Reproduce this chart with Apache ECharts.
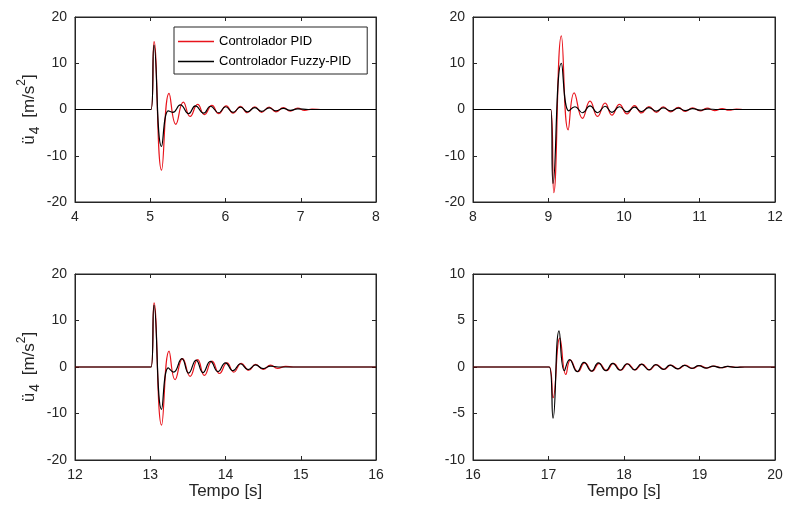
<!DOCTYPE html>
<html>
<head>
<meta charset="utf-8">
<script src="https://cdn.jsdelivr.net/npm/echarts@6/dist/echarts.min.js"></script>
<style>
html,body{margin:0;padding:0;background:#fff;}
#c{width:787px;height:516px;}
</style>
</head>
<body>
<div id="c"></div>
<script>
// ---- Data ([time s, acceleration m/s^2]) ----
const seriesNames = ['Controlador PID', 'Controlador Fuzzy-PID'];
const xLabel = 'Tempo [s]';

const xRanges = [[4, 8], [8, 12], [12, 16], [16, 20]];
const yRanges = [[-20, 20, 10], [-20, 20, 10], [-20, 20, 10], [-10, 10, 5]];

const pid1 = [[4,0],[5.01,0],[5.05,14.7],[5.15,-13.1],[5.25,3.5],[5.34,-3.2],[5.44,1.6],[5.53,-1.5],[5.63,1.1],[5.72,-1.1],[5.82,0.9],[5.91,-0.9],[6.01,0.8],[6.10,-0.8],[6.20,0.7],[6.29,-0.7],[6.39,0.6],[6.48,-0.6],[6.58,0.5],[6.67,-0.5],[6.77,0.4],[6.86,-0.35],[6.96,0.3],[7.05,-0.2],[7.15,0.1],[7.3,0],[8,0]];
const fuzzy1 = [[4,0],[5.01,0],[5.05,13.9],[5.15,-8.0],[5.24,-0.3],[5.30,-0.6],[5.40,1.0],[5.51,-0.9],[5.60,0.8],[5.71,-0.8],[5.80,0.7],[5.91,-0.7],[6.00,0.6],[6.10,-0.6],[6.20,0.5],[6.29,-0.5],[6.39,0.4],[6.48,-0.4],[6.58,0.35],[6.67,-0.3],[6.77,0.25],[6.86,-0.2],[6.96,0.15],[7.1,0],[8,0]];

const pid2 = [[8,0],[9.03,0],[9.07,-18.0],[9.17,15.9],[9.26,-4.4],[9.34,3.6],[9.45,-1.9],[9.55,1.8],[9.65,-1.5],[9.75,1.4],[9.84,-1.2],[9.94,1.1],[10.04,-0.95],[10.14,0.85],[10.23,-0.75],[10.33,0.65],[10.43,-0.6],[10.52,0.55],[10.62,-0.5],[10.72,0.45],[10.81,-0.4],[10.91,0.35],[11.01,-0.3],[11.10,0.3],[11.20,-0.25],[11.30,0.2],[11.39,-0.15],[11.49,0.1],[11.6,0],[12,0]];
const fuzzy2 = [[8,0],[9.03,0],[9.06,-16.0],[9.17,10.0],[9.27,-0.3],[9.35,0.6],[9.45,-0.7],[9.55,0.8],[9.65,-0.7],[9.75,0.7],[9.84,-0.6],[9.94,0.6],[10.04,-0.5],[10.14,0.5],[10.23,-0.45],[10.33,0.4],[10.43,-0.35],[10.52,0.35],[10.62,-0.3],[10.72,0.3],[10.81,-0.25],[10.91,0.2],[11.01,-0.15],[11.10,0.1],[11.25,0],[12,0]];

const pid3 = [[12,0],[13.01,0],[13.05,13.8],[13.15,-12.5],[13.25,3.4],[13.33,-2.7],[13.43,1.8],[13.53,-2.0],[13.63,1.6],[13.72,-1.8],[13.82,1.25],[13.92,-1.4],[14.02,0.9],[14.11,-1.1],[14.21,0.8],[14.31,-0.7],[14.40,0.55],[14.50,-0.5],[14.60,0.4],[14.69,-0.3],[14.8,0.15],[14.9,0],[16,0]];
const fuzzy3 = [[12,0],[13.01,0],[13.05,13.3],[13.15,-9.1],[13.24,-0.2],[13.31,-1.1],[13.42,1.8],[13.51,-1.3],[13.61,1.5],[13.70,-1.2],[13.80,1.2],[13.90,-1.0],[14.00,0.9],[14.10,-0.8],[14.20,0.7],[14.30,-0.55],[14.40,0.45],[14.50,-0.35],[14.6,0.2],[14.7,0],[16,0]];

const pid4 = [[16,0],[17.01,0],[17.06,-3.3],[17.15,3.1],[17.23,-0.8],[17.29,0.75],[17.39,-0.5],[17.48,0.45],[17.58,-0.45],[17.67,0.4],[17.77,-0.4],[17.86,0.4],[17.96,-0.35],[18.05,0.35],[18.15,-0.3],[18.24,0.3],[18.34,-0.3],[18.43,0.25],[18.53,-0.25],[18.62,0.2],[18.72,-0.2],[18.81,0.2],[18.91,-0.15],[19.00,0.15],[19.10,-0.12],[19.19,0.1],[19.29,-0.08],[19.38,0.06],[19.48,-0.04],[19.6,0],[20,0]];
const fuzzy4 = [[16,0],[17.01,0],[17.06,-5.5],[17.14,3.9],[17.21,-0.4],[17.28,0.8],[17.38,-0.5],[17.47,0.5],[17.57,-0.45],[17.66,0.45],[17.76,-0.4],[17.85,0.4],[17.95,-0.35],[18.04,0.35],[18.14,-0.3],[18.23,0.3],[18.33,-0.3],[18.42,0.25],[18.52,-0.25],[18.61,0.2],[18.71,-0.2],[18.80,0.18],[18.90,-0.15],[18.99,0.14],[19.09,-0.12],[19.18,0.1],[19.28,-0.08],[19.37,0.06],[19.47,-0.04],[19.6,0],[20,0]];

const pidData = [pid1, pid2, pid3, pid4];
const fuzzyData = [fuzzy1, fuzzy2, fuzzy3, fuzzy4];

// ---- Layout / style ----
const FONT = "'Liberation Sans', Arial, sans-serif";
const AX = '#262626';
const RED = '#e8141c';
const grids = [
  {left: 75, top: 17, width: 301, height: 185},
  {left: 473, top: 17, width: 302, height: 185},
  {left: 75, top: 274, width: 301, height: 186},
  {left: 473, top: 274, width: 302, height: 186}
];

const chart = echarts.init(document.getElementById('c'), null, {renderer: 'canvas'});
const xAxes = [], yAxes = [], series = [];
const yName = '{u|ü}{s|4}{u| [m/s}{p|2}{u|]}';
const yRich = {
  u: {fontSize: 17, fontFamily: FONT, color: AX, lineHeight: 26},
  s: {fontSize: 14, fontFamily: FONT, color: AX, lineHeight: 13, verticalAlign: 'bottom', padding: [0, 4, 0, 1]},
  p: {fontSize: 12, fontFamily: FONT, color: AX, lineHeight: 12, verticalAlign: 'top'}
};

grids.forEach((g, i) => {
  const [xmin, xmax] = xRanges[i];
  const [ymin, ymax, yint] = yRanges[i];
  const common = {
    axisLine: {show: true, onZero: false, lineStyle: {color: AX, width: 1}},
    axisTick: {show: true, inside: true, length: 4, lineStyle: {color: AX}},
    splitLine: {show: false}
  };
  xAxes.push(Object.assign({}, common, {
    type: 'value', gridIndex: i, position: 'bottom', min: xmin, max: xmax, interval: 1,
    axisLabel: {show: true, fontSize: 14, fontFamily: FONT, color: AX, margin: 8},
    name: i >= 2 ? xLabel : '', nameLocation: 'middle', nameGap: 23,
    nameTextStyle: {fontSize: 17, fontFamily: FONT, color: AX}
  }));
  xAxes.push(Object.assign({}, common, {
    type: 'value', gridIndex: i, position: 'top', min: xmin, max: xmax, interval: 1,
    axisLabel: {show: false}
  }));
  yAxes.push(Object.assign({}, common, {
    type: 'value', gridIndex: i, position: 'left', min: ymin, max: ymax, interval: yint,
    axisLabel: {show: true, fontSize: 14, fontFamily: FONT, color: AX, margin: 8},
    name: (i % 2 === 0) ? yName : '', nameLocation: 'middle', nameGap: 33, nameRotate: 90,
    nameTextStyle: {rich: yRich}
  }));
  yAxes.push(Object.assign({}, common, {
    type: 'value', gridIndex: i, position: 'right', min: ymin, max: ymax, interval: yint,
    axisLabel: {show: false}
  }));
  series.push({
    name: seriesNames[0], type: 'line', xAxisIndex: 2 * i, yAxisIndex: 2 * i,
    data: pidData[i], smooth: 0.5, showSymbol: false, symbol: 'none',
    lineStyle: {color: RED, width: 1.2}, itemStyle: {color: RED}, z: 2, animation: false
  });
  series.push({
    name: seriesNames[1], type: 'line', xAxisIndex: 2 * i, yAxisIndex: 2 * i,
    data: fuzzyData[i], smooth: 0.5, showSymbol: false, symbol: 'none',
    lineStyle: {color: '#000', width: 1.2}, itemStyle: {color: '#000'}, z: 3, animation: false
  });
});

chart.setOption({
  backgroundColor: '#fff',
  animation: false,
  grid: grids.map(g => Object.assign({show: true, borderColor: AX, borderWidth: 1, backgroundColor: '#fff'}, g)),
  xAxis: xAxes,
  yAxis: yAxes,
  legend: {
    data: seriesNames.map((n, k) => ({name: n, icon: 'rect', itemStyle: {color: k === 0 ? RED : '#000'}})),
    orient: 'vertical',
    left: 174, top: 27,
    backgroundColor: '#fff',
    borderColor: AX, borderWidth: 1,
    padding: [8, 16, 6, 4],
    itemWidth: 36, itemHeight: 1.5, itemGap: 7,
    textStyle: {fontSize: 13, fontFamily: FONT, color: '#000'}
  },
  series: series
});
</script>
</body>
</html>
